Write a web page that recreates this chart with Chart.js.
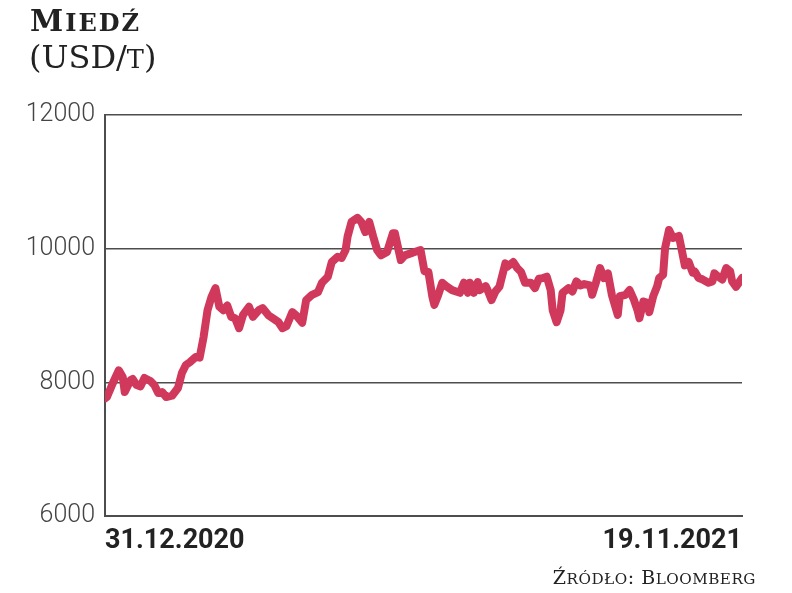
<!DOCTYPE html>
<html lang="pl">
<head>
<meta charset="utf-8">
<title>Miedź</title>
<script src="https://cdn.jsdelivr.net/npm/chart.js@4.4.1/dist/chart.umd.min.js"></script>
<style>
  html, body { margin: 0; padding: 0; background: #fff; }
  .wrap { position: relative; width: 792px; height: 593px; overflow: hidden; }
  canvas { position: absolute; left: 0; top: 0; }
  .sc { font-size: 0.8em; text-transform: uppercase; }
  .title {
    position: absolute; left: 30px; top: 6px;
    font-family: 'DejaVu Serif', serif; font-weight: bold;
    font-size: 30px; letter-spacing: 2px; color: #222; line-height: 1;
  }
  .unit {
    position: absolute; left: 29px; top: 38px;
    font-family: 'DejaVu Serif', serif; font-size: 32px; color: #222; line-height: 1.2;
  }
  .source {
    position: absolute; right: 36px; top: 566px;
    font-family: 'DejaVu Serif', serif; font-size: 19px; letter-spacing: 0.5px; color: #222;
  }
</style>
</head>
<body>
<div class="wrap">
  <canvas id="chart" width="792" height="593"></canvas>
  <div class="title">M<span class="sc">iedź</span></div>
  <div class="unit">(USD/<span class="sc">t</span>)</div>
  <div class="source">Ź<span class="sc">ródło</span>: B<span class="sc">loomberg</span></div>
</div>
<script>
// dni od 31.12.2020 i cena miedzi (USD/t)
const dayOffsets = [
  0, 1, 4, 7, 9, 10, 13, 14, 16, 18, 20, 23, 25, 27, 29, 31, 34, 37, 39, 41,
  43, 46, 48, 50, 52, 54, 56, 58, 60, 62, 64, 66, 68, 70, 73, 75, 78, 80, 83, 85,
  88, 90, 92, 95, 97, 100, 102, 105, 108, 110, 113, 115, 118, 120, 122, 123, 125, 128, 130, 132,
  134, 136, 138, 140, 143, 146, 147, 150, 152, 155, 157, 160, 162, 164, 166, 167, 169, 171, 173, 176,
  178, 180, 182, 184, 185, 187, 189, 190, 193, 194, 196, 198, 200, 203, 204, 207, 209, 211, 213, 216,
  218, 220, 222, 224, 226, 227, 229, 231, 232, 235, 237, 239, 241, 243, 246, 247, 249, 251, 253, 255,
  257, 260, 261, 264, 266, 268, 270, 271, 273, 275, 276, 278, 280, 281, 283, 284, 286, 288, 291, 293,
  294, 296, 298, 299, 301, 303, 306, 308, 309, 311, 313, 315, 317, 318, 320, 323,
];
const prices = [
  7760, 7780, 7990, 8180, 8080, 7855, 8035, 8050, 7960, 7940, 8065, 8020, 7960, 7840, 7855, 7780, 7800, 7915, 8140, 8260,
  8300, 8380, 8370, 8680, 9080, 9280, 9410, 9130, 9080, 9150, 8980, 8960, 8810, 9010, 9130, 8980, 9080, 9110, 9000, 8960,
  8900, 8810, 8840, 9050, 9000, 8890, 9230, 9310, 9350, 9490, 9580, 9800, 9880, 9860, 9980, 10180, 10400, 10460, 10400, 10250,
  10400, 10180, 9980, 9900, 9950, 10230, 10230, 9830, 9900, 9930, 9950, 9980, 9660, 9650, 9280, 9160, 9310, 9490, 9440, 9380,
  9360, 9340, 9490, 9340, 9490, 9340, 9500, 9380, 9440, 9380, 9230, 9360, 9430, 9780, 9730, 9800, 9710, 9650, 9490, 9490,
  9410, 9550, 9560, 9580, 9380, 9080, 8900, 9080, 9340, 9410, 9360, 9510, 9450, 9470, 9450, 9310, 9500, 9710, 9560, 9630,
  9310, 9010, 9290, 9310, 9380, 9250, 9080, 8960, 9210, 9190, 9050, 9290, 9440, 9560, 9610, 10010, 10280, 10160, 10190, 9900,
  9750, 9800, 9640, 9660, 9560, 9540, 9490, 9510, 9630, 9580, 9540, 9710, 9660, 9510, 9430, 9560,
];
const xTickLabels = ['31.12.2020', '19.11.2021'];
const yTicks = [6000, 8000, 10000, 12000];

const LINE = '#d0395b';
const AXIS = '#4d4d4d';
const lastDay = dayOffsets[dayOffsets.length - 1];

new Chart(document.getElementById('chart'), {
  type: 'line',
  data: {
    datasets: [{
      data: dayOffsets.map((d, i) => ({ x: d, y: prices[i] })),
      borderColor: LINE,
      borderWidth: 8,
      borderJoinStyle: 'round',
      borderCapStyle: 'round',
      pointRadius: 0,
      tension: 0,
      fill: false,
    }],
  },
  options: {
    responsive: false,
    animation: false,
    layout: { padding: { top: 115, right: 50, bottom: 27, left: 0 } },
    plugins: { legend: { display: false }, tooltip: { enabled: false } },
    scales: {
      x: {
        type: 'linear',
        min: 0,
        max: lastDay,
        afterBuildTicks: (scale) => { scale.ticks = [{ value: 0 }, { value: lastDay }]; },
        afterFit: (scale) => { scale.height = 50; },
        grid: { display: false, drawTicks: false },
        border: { display: true, color: AXIS, width: 2 },
        ticks: {
          align: 'inner',
          maxRotation: 0,
          padding: 9,
          color: '#222',
          font: { family: 'Roboto, sans-serif', size: 27, weight: 'bold' },
          callback: (v) => (v === 0 ? xTickLabels[0] : xTickLabels[1]),
        },
      },
      y: {
        min: yTicks[0],
        max: yTicks[yTicks.length - 1],
        afterBuildTicks: (scale) => { scale.ticks = yTicks.map((v) => ({ value: v })); },
        afterFit: (scale) => { scale.width = 105; },
        grid: { color: AXIS, lineWidth: 1.5, drawTicks: false },
        border: { display: true, color: AXIS, width: 2 },
        ticks: {
          padding: 10,
          color: '#444',
          font: { family: 'Roboto, sans-serif', size: 25, weight: 300 },
          callback: (v) => String(v),
        },
      },
    },
  },
});
</script>
</body>
</html>
